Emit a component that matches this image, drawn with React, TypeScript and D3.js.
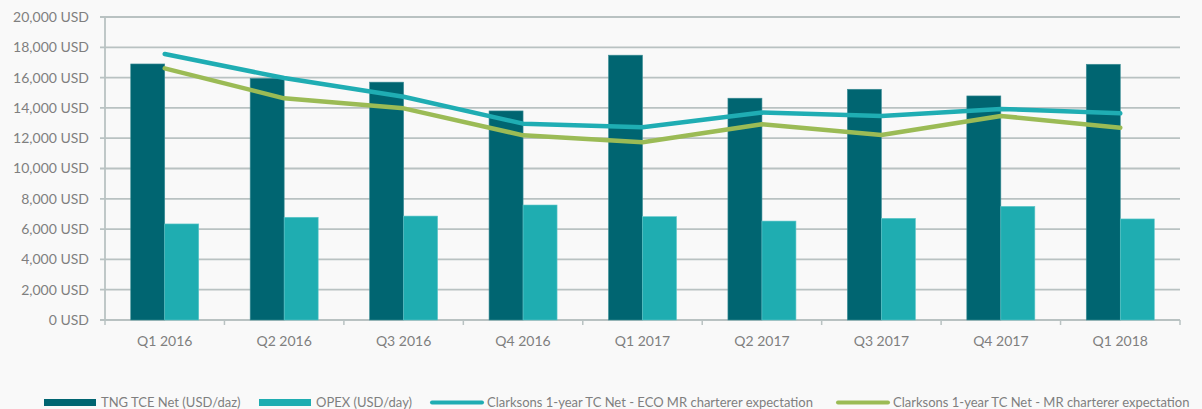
import React from "react";
import * as d3 from "d3";

const categories = ["Q1 2016", "Q2 2016", "Q3 2016", "Q4 2016", "Q1 2017", "Q2 2017", "Q3 2017", "Q4 2017", "Q1 2018"];
const tceNet = [16900, 15950, 15700, 13800, 17480, 14640, 15230, 14790, 16880];
const opex = [6340, 6780, 6860, 7590, 6820, 6530, 6710, 7500, 6670];
const ecoExpectation = [17560, 15970, 14740, 12960, 12720, 13690, 13470, 13930, 13640];
const mrExpectation = [16610, 14630, 13970, 12190, 11730, 12920, 12210, 13470, 12690];
const yTicks = [0, 2000, 4000, 6000, 8000, 10000, 12000, 14000, 16000, 18000, 20000];
const legendLabels = [
  "TNG TCE Net (USD/daz)",
  "OPEX (USD/day)",
  "Clarksons 1-year TC Net - ECO MR charterer expectation",
  "Clarksons 1-year TC Net - MR charterer expectation",
];

const W = 1202, H = 409;
const left = 105, right = 1180, top = 17, bottom = 320;
const C_DARK = "#006571", C_LIGHT = "#1FADB1", C_LINE1 = "#1FADB3", C_LINE2 = "#9BBB55";
const GRID = "#B9C2C2", TEXT = "#7F7F7F";
const FONT = "Lato, 'Open Sans', sans-serif";

export default function App() {
  const x = d3.scaleBand<string>().domain(categories).range([left, right]).paddingInner(0).paddingOuter(0);
  const y = d3.scaleLinear().domain([0, 20000]).range([bottom, top]);
  const bw = 34;
  const fmt = d3.format(",");
  const cx = (c: string) => (x(c) as number) + x.bandwidth() / 2;
  const line = d3.line<number>().x((_, i) => cx(categories[i])).y((d) => y(d));

  return (
    <div style={{ position: "fixed", left: 0, top: 0 }}>
      <svg width={W} height={H} style={{ display: "block", background: "#F9F9F9", fontFamily: FONT }}>
        {yTicks.map((t) => (
          <g key={t}>
            <line x1={left - 5} x2={right} y1={y(t)} y2={y(t)} stroke={GRID} strokeWidth={1.8} />
            <text x={89} y={y(t)} dy="0.35em" textAnchor="end" fontSize={14} fill={TEXT}>
              {fmt(t)} USD
            </text>
          </g>
        ))}
        <line x1={left} x2={left} y1={top} y2={bottom} stroke={GRID} strokeWidth={1.8} />
        {categories.map((c, i) => (
          <line key={"t" + i} x1={x(c) as number} x2={x(c) as number} y1={bottom} y2={bottom + 5} stroke={GRID} strokeWidth={1.5} />
        ))}
        <line x1={right} x2={right} y1={bottom} y2={bottom + 5} stroke={GRID} strokeWidth={1.5} />
        {categories.map((c, i) => (
          <g key={c}>
            <rect x={cx(c) - bw} y={y(tceNet[i])} width={bw} height={bottom - y(tceNet[i])} fill={C_DARK} stroke="#3E8F97" strokeWidth={0.6} />
            <rect x={cx(c)} y={y(opex[i])} width={bw} height={bottom - y(opex[i])} fill={C_LIGHT} stroke="#5FC6C9" strokeWidth={0.6} />
            <text x={cx(c)} y={346} textAnchor="middle" fontSize={14} fill={TEXT}>{c}</text>
          </g>
        ))}
        <path d={line(ecoExpectation) || ""} fill="none" stroke={C_LINE1} strokeWidth={4.5} strokeLinecap="round" strokeLinejoin="round" />
        <path d={line(mrExpectation) || ""} fill="none" stroke={C_LINE2} strokeWidth={4.5} strokeLinecap="round" strokeLinejoin="round" />
        <g fontSize={13} fill={TEXT}>
          <rect x={44} y={399} width={52} height={7} fill={C_DARK} />
          <text x={101} y={402.5} dy="0.35em">{legendLabels[0]}</text>
          <rect x={259} y={399} width={52} height={7} fill={C_LIGHT} />
          <text x={316} y={402.5} dy="0.35em">{legendLabels[1]}</text>
          <line x1={432} x2={482} y1={402.5} y2={402.5} stroke={C_LINE1} strokeWidth={4} strokeLinecap="round" />
          <text x={487} y={402.5} dy="0.35em">{legendLabels[2]}</text>
          <line x1={838} x2={888} y1={402.5} y2={402.5} stroke={C_LINE2} strokeWidth={4} strokeLinecap="round" />
          <text x={893} y={402.5} dy="0.35em">{legendLabels[3]}</text>
        </g>
      </svg>
    </div>
  );
}
